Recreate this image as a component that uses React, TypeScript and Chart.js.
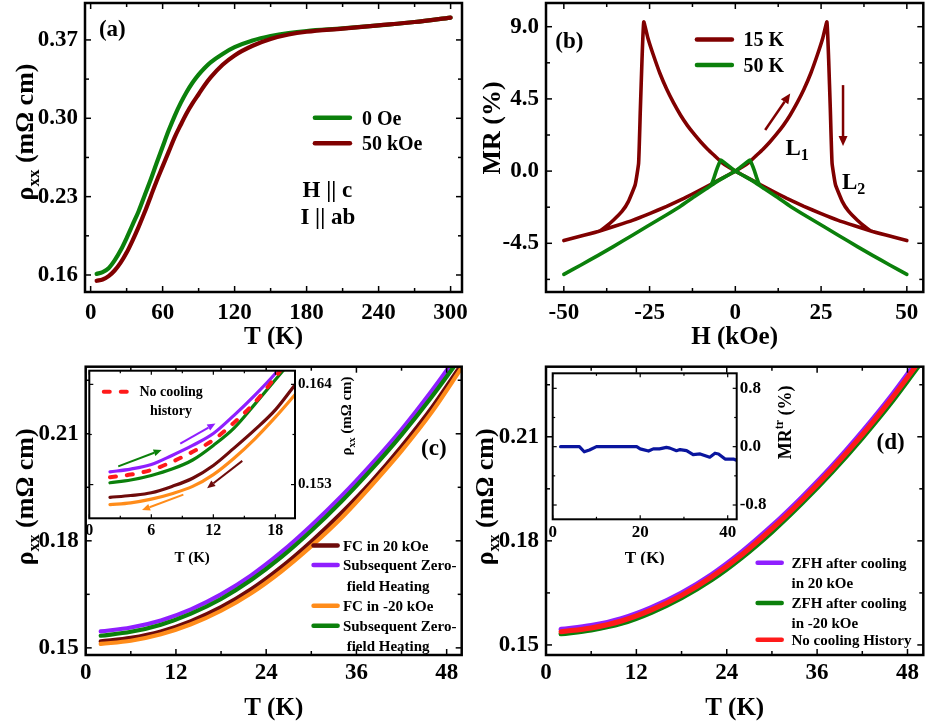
import React, { useEffect, useRef } from "react";
import { Chart, registerables } from "chart.js";
Chart.register(...registerables);

const SERIF = '"Liberation Serif", "Times New Roman", serif';
const fnt = (s: number) => `bold ${s}px ${SERIF}`;

const MAROON = "#800000";
const GREEN = "#0b800b";
const BROWN = "#6e0b0b";
const PURPLE = "#8f1fff";
const ORANGE = "#ff8c1a";
const RED = "#ff1a1a";
const NAVY = "#0a159e";

// ---------- (a) rho vs T ----------
const A_T = [5, 10, 15, 20, 25, 30, 35, 40, 45, 50, 55, 60, 65, 70, 75, 80, 85, 90, 95, 100, 110, 120, 135, 150, 165, 180, 210, 240, 270, 300];
const A_RHO_0OE = [0.161, 0.1625, 0.166, 0.173, 0.182, 0.193, 0.205, 0.217, 0.231, 0.245, 0.26, 0.2746, 0.289, 0.302, 0.3135, 0.3235, 0.332, 0.339, 0.345, 0.35, 0.3575, 0.3635, 0.3695, 0.3735, 0.3762, 0.378, 0.3803, 0.383, 0.386, 0.39];
const A_RHO_50KOE = [0.1548, 0.156, 0.159, 0.164, 0.171, 0.18, 0.191, 0.203, 0.216, 0.23, 0.244, 0.257, 0.27, 0.283, 0.294, 0.3045, 0.3135, 0.3215, 0.3295, 0.3365, 0.3478, 0.3562, 0.3648, 0.3708, 0.3748, 0.3773, 0.3801, 0.383, 0.386, 0.39];
const A_X_TICKS = [0, 60, 120, 180, 240, 300];
const A_Y_TICKS = [0.16, 0.23, 0.3, 0.37];

// ---------- (b) MR vs H (butterfly loops) ----------
const B15_H = [-50, -45, -40, -35, -30, -25, -20, -15, -10, -5, 0, 2, 4, 6, 8, 10, 12, 14, 16, 18, 20, 22, 24, 25.5, 26.7, 27.2, 27.7, 28.2, 29.2, 31.2, 33, 35.5, 37.5, 39.6, 45, 50,
  45, 40, 35, 30, 25, 20, 15, 10, 5, 0, -2, -4, -6, -8, -10, -12, -14, -16, -18, -20, -22, -24, -25.5, -26.7, -27.2, -27.7, -28.2, -29.2, -31.2, -33, -35.5, -37.5, -39.6, -45, -50];
const B15_MR = [-4.33, -4.05, -3.76, -3.42, -3.07, -2.65, -2.2, -1.7, -1.15, -0.58, 0, 0.25, 0.55, 0.95, 1.35, 1.8, 2.3, 2.85, 3.5, 4.25, 5.1, 6.1, 7.3, 8.3, 9.3, 7.0, 3.8, 0.5, -0.85, -1.9, -2.5, -3.05, -3.42, -3.74, -4.05, -4.33,
  -4.05, -3.76, -3.42, -3.07, -2.65, -2.2, -1.7, -1.15, -0.58, 0, 0.25, 0.55, 0.95, 1.35, 1.8, 2.3, 2.85, 3.5, 4.25, 5.1, 6.1, 7.3, 8.3, 9.3, 7.0, 3.8, 0.5, -0.85, -1.9, -2.5, -3.05, -3.42, -3.74, -4.05, -4.33];
const B50_H = [-50, -45, -40, -35.7, -30, -25.9, -20, -16.2, -12, -8.5, -5.5, -2.5, 0, 1.5, 3, 4.2, 4.9, 5.6, 6.2, 7, 8.5, 12, 16.2, 20, 25.9, 30, 35.7, 40, 45, 50,
  45, 40, 35.7, 30, 25.9, 20, 16.2, 12, 8.5, 5.5, 2.5, 0, -1.5, -3, -4.2, -4.9, -5.6, -6.2, -7, -8.5, -12, -16.2, -20, -25.9, -30, -35.7, -40, -45, -50];
const B50_MR = [-6.44, -5.85, -5.25, -4.72, -4.0, -3.47, -2.72, -2.22, -1.6, -1.1, -0.67, -0.3, 0, 0.25, 0.5, 0.69, 0.4, 0.0, -0.4, -0.85, -1.1, -1.6, -2.22, -2.72, -3.47, -4.0, -4.72, -5.25, -5.85, -6.44,
  -5.85, -5.25, -4.72, -4.0, -3.47, -2.72, -2.22, -1.6, -1.1, -0.67, -0.3, 0, 0.25, 0.5, 0.69, 0.4, 0.0, -0.4, -0.85, -1.1, -1.6, -2.22, -2.72, -3.47, -4.0, -4.72, -5.25, -5.85, -6.44];
const B_X_TICKS = [-50, -25, 0, 25, 50];
const B_Y_TICKS = [-4.5, 0, 4.5, 9];

// ---------- (c) cooling history ----------
const C_T = [2, 6, 10, 14, 18, 22, 26, 30, 34, 38, 42, 46, 50];
const C_FC20 = [0.1518, 0.1528, 0.1546, 0.1575, 0.1614, 0.1664, 0.1726, 0.1798, 0.1878, 0.1966, 0.2064, 0.2172, 0.2295];
const C_ZFH_AFTER20 = [0.1546, 0.1557, 0.1577, 0.1608, 0.165, 0.1703, 0.1768, 0.1843, 0.1925, 0.2015, 0.2112, 0.222, 0.2336];
const C_FCM20 = [0.1511, 0.152, 0.1538, 0.1566, 0.1604, 0.1653, 0.1714, 0.1785, 0.1864, 0.1955, 0.2052, 0.216, 0.2285];
const C_ZFH_AFTERM20 = [0.1534, 0.1545, 0.1565, 0.1596, 0.1637, 0.169, 0.1754, 0.1828, 0.191, 0.2, 0.2097, 0.2203, 0.2318];
const C_X_TICKS = [0, 12, 24, 36, 48];
const C_Y_TICKS = [0.15, 0.18, 0.21];

const CI_T = [2, 4, 6, 8, 10, 12, 14, 16, 18, 20];
const CI_ZFH20 = [0.1544, 0.1547, 0.1552, 0.1562, 0.1573, 0.1586, 0.1606, 0.1628, 0.1652, 0.168];
const CI_NOHIST = [0.1538, 0.1541, 0.1546, 0.1555, 0.1566, 0.1579, 0.1598, 0.162, 0.1648, 0.1678];
const CI_ZFHM20 = [0.1532, 0.1535, 0.154, 0.1547, 0.1557, 0.1573, 0.1592, 0.1618, 0.1645, 0.1672];
const CI_FC20 = [0.1516, 0.1518, 0.1521, 0.1528, 0.1537, 0.1551, 0.157, 0.159, 0.1612, 0.1641];
const CI_FCM20 = [0.1508, 0.151, 0.1514, 0.152, 0.1528, 0.1541, 0.1559, 0.158, 0.1604, 0.163];
const CI_X_TICKS = [0, 6, 12, 18];
const CI_Y_TICKS = [0.153, 0.164];

// ---------- (d) ZFH comparison ----------
const D_T = [2, 6, 10, 14, 18, 22, 26, 30, 34, 38, 42, 46, 50];
const D_ZFH20 = [0.1545, 0.1556, 0.1576, 0.1608, 0.165, 0.1703, 0.1768, 0.1843, 0.1926, 0.2016, 0.2115, 0.2222, 0.234];
const D_ZFHM20 = [0.1532, 0.1543, 0.1562, 0.1594, 0.1636, 0.1688, 0.1752, 0.1826, 0.1909, 0.1999, 0.2097, 0.2203, 0.232];
const D_NOHIST = [0.1538, 0.1549, 0.1569, 0.1601, 0.1643, 0.1696, 0.176, 0.1835, 0.1918, 0.2008, 0.2106, 0.2213, 0.233];
const D_X_TICKS = [0, 12, 24, 36, 48];
const D_Y_TICKS = [0.15, 0.18, 0.21];

const DI_T = [1.8, 6.1, 7.2, 8.4, 10, 19.2, 20, 21.9, 23, 24.4, 26, 26.8, 28.3, 29.1, 30.6, 32.1, 33.7, 35.9, 37.1, 37.9, 39.4, 41.3, 42.5];
const DI_MR = [0, 0, -0.07, -0.045, 0, 0, -0.03, -0.06, -0.03, -0.03, -0.01, -0.02, -0.055, -0.04, -0.055, -0.11, -0.1, -0.145, -0.09, -0.1, -0.17, -0.17, -0.2];
const DI_X_TICKS = [0, 20, 40];
const DI_Y_TICKS = [-0.8, 0, 0.8];

// ---------- helpers ----------
type Seg = { t: string; s: number; dy?: number };
type TextItem = { x: number; y: number; segs: Seg[]; align?: "left" | "center" };
type LegItem = { x1: number; x2: number; y: number; color: string; width: number; dash?: number[] };
type Arrow = { x1: number; y1: number; x2: number; y2: number; color: string; width: number; head: number; hw: number };
type Deco = {
  bg?: boolean; frame: number; tickW: number; major: number; minor: number;
  xMajor: number[]; xMinor: number[]; yMajor: number[]; yMinor: number[];
  texts?: TextItem[]; legend?: LegItem[]; arrows?: Arrow[];
  yTitle?: { segs: Seg[]; side: "left" | "right"; dx: number; dy: number };
  xTitle?: { segs: Seg[]; dy: number };
};

function segsWidth(ctx: CanvasRenderingContext2D, segs: Seg[]) {
  let w = 0;
  for (const sg of segs) { ctx.font = fnt(sg.s); w += ctx.measureText(sg.t).width; }
  return w;
}
function drawSegs(ctx: CanvasRenderingContext2D, segs: Seg[], x: number, y: number, align: "left" | "center") {
  const main = Math.max(...segs.map((s) => s.s));
  const w = segsWidth(ctx, segs);
  let cx = align === "center" ? x - w / 2 : x;
  const base = y + 0.34 * main;
  ctx.textAlign = "left";
  ctx.textBaseline = "alphabetic";
  for (const sg of segs) {
    ctx.font = fnt(sg.s);
    ctx.fillText(sg.t, cx, base + (sg.dy || 0));
    cx += ctx.measureText(sg.t).width;
  }
}

function makeDeco(o: Deco) {
  return {
    id: "deco",
    beforeDatasetsDraw(chart: any) {
      if (!o.bg) return;
      const a = chart.chartArea, ctx = chart.ctx;
      ctx.save();
      ctx.fillStyle = "#fff";
      ctx.fillRect(a.left, a.top, a.right - a.left, a.bottom - a.top);
      ctx.restore();
    },
    afterDraw(chart: any) {
      const ctx: CanvasRenderingContext2D = chart.ctx;
      const a = chart.chartArea;
      const xs = chart.scales.x, ys = chart.scales.y;
      ctx.save();
      ctx.fillStyle = "#000";
      ctx.strokeStyle = "#000";
      const line = (x1: number, y1: number, x2: number, y2: number) => {
        ctx.beginPath(); ctx.moveTo(x1, y1); ctx.lineTo(x2, y2); ctx.stroke();
      };
      ctx.lineWidth = o.tickW;
      const tk = (vals: number[], len: number, isX: boolean) => {
        for (const v of vals) {
          if (isX) {
            const p = xs.getPixelForValue(v);
            if (p < a.left - 0.5 || p > a.right + 0.5) continue;
            line(p, a.bottom, p, a.bottom - len);
            line(p, a.top, p, a.top + len);
          } else {
            const p = ys.getPixelForValue(v);
            if (p < a.top - 0.5 || p > a.bottom + 0.5) continue;
            line(a.left, p, a.left + len, p);
            line(a.right, p, a.right - len, p);
          }
        }
      };
      tk(o.xMajor, o.major, true); tk(o.xMinor, o.minor, true);
      tk(o.yMajor, o.major, false); tk(o.yMinor, o.minor, false);
      ctx.lineWidth = o.frame;
      ctx.strokeRect(a.left, a.top, a.right - a.left, a.bottom - a.top);
      for (const l of o.legend || []) {
        ctx.save();
        ctx.strokeStyle = l.color; ctx.lineWidth = l.width; ctx.lineCap = "round";
        if (l.dash) ctx.setLineDash(l.dash);
        const y = ys.getPixelForValue(l.y);
        line(xs.getPixelForValue(l.x1), y, xs.getPixelForValue(l.x2), y);
        ctx.restore();
      }
      for (const ar of o.arrows || []) {
        const X1 = xs.getPixelForValue(ar.x1), Y1 = ys.getPixelForValue(ar.y1);
        const X2 = xs.getPixelForValue(ar.x2), Y2 = ys.getPixelForValue(ar.y2);
        const ang = Math.atan2(Y2 - Y1, X2 - X1);
        const bx = X2 - Math.cos(ang) * ar.head, by = Y2 - Math.sin(ang) * ar.head;
        ctx.save();
        ctx.strokeStyle = ar.color; ctx.fillStyle = ar.color; ctx.lineWidth = ar.width;
        line(X1, Y1, bx, by);
        ctx.beginPath();
        ctx.moveTo(X2, Y2);
        ctx.lineTo(bx + Math.sin(ang) * ar.hw, by - Math.cos(ang) * ar.hw);
        ctx.lineTo(bx - Math.sin(ang) * ar.hw, by + Math.cos(ang) * ar.hw);
        ctx.closePath(); ctx.fill();
        ctx.restore();
      }
      ctx.fillStyle = "#000";
      for (const t of o.texts || []) {
        drawSegs(ctx, t.segs, xs.getPixelForValue(t.x), ys.getPixelForValue(t.y), t.align || "left");
      }
      if (o.xTitle) {
        drawSegs(ctx, o.xTitle.segs, (a.left + a.right) / 2, a.bottom + o.xTitle.dy, "center");
      }
      if (o.yTitle) {
        const cx = (o.yTitle.side === "left" ? a.left : a.right) + o.yTitle.dx;
        const cy = (a.top + a.bottom) / 2 + o.yTitle.dy;
        ctx.save();
        ctx.translate(cx, cy);
        ctx.rotate(-Math.PI / 2);
        drawSegs(ctx, o.yTitle.segs, 0, 0, "center");
        ctx.restore();
      }
      ctx.restore();
    },
  };
}

function axis(id: "x" | "y", position: string, min: number, max: number, ticks: number[], dec: number, fsize: number, pad: number, size: number) {
  return {
    type: "linear",
    position,
    min,
    max,
    grid: { display: false, drawTicks: false },
    border: { display: false },
    afterBuildTicks: (s: any) => { s.ticks = ticks.map((v) => ({ value: v })); },
    afterFit: (s: any) => {
      if (id === "x") s.height = size; else s.width = size;
      s.paddingLeft = 0; s.paddingRight = 0; s.paddingTop = 0; s.paddingBottom = 0;
    },
    ticks: {
      font: { family: SERIF, weight: "bold", size: fsize },
      color: "#000",
      padding: pad,
      autoSkip: false,
      maxRotation: 0,
      minRotation: 0,
      callback: (v: any) => Number(v).toFixed(dec),
    },
  };
}

function series(xs: number[], ys: number[], color: string, width: number, extra: any = {}) {
  return {
    data: xs.map((x, i) => ({ x, y: ys[i] })),
    borderColor: color,
    backgroundColor: color,
    borderWidth: width,
    pointRadius: 0,
    showLine: true,
    fill: false,
    clip: 0,
    borderJoinStyle: "round",
    borderCapStyle: "round",
    cubicInterpolationMode: "monotone",
    ...extra,
  };
}

function baseOptions(padding: any, scales: any) {
  return {
    animation: false,
    responsive: false,
    devicePixelRatio: 1,
    events: [],
    layout: { padding },
    plugins: { legend: { display: false }, tooltip: { enabled: false }, title: { display: false } },
    scales,
  };
}

const RHO_TITLE = (s: number, ss: number, d: number): Seg[] => [{ t: "ρ", s }, { t: "xx", s: ss, dy: d }, { t: " (mΩ cm)", s }];

function cfgA() {
  return {
    type: "scatter",
    data: {
      datasets: [
        series(A_T, A_RHO_50KOE, MAROON, 4.2),
        series(A_T, A_RHO_0OE, GREEN, 4.2),
      ],
    },
    options: baseOptions({ left: 0, top: 3, right: 8, bottom: 0 }, {
      x: axis("x", "bottom", -4.7, 309.5, A_X_TICKS, 0, 23, 7, 68),
      y: axis("y", "left", 0.1448, 0.403, A_Y_TICKS, 2, 23, 7, 85),
    }),
    plugins: [makeDeco({
      frame: 2.5, tickW: 1.5, major: 6, minor: 4,
      xMajor: A_X_TICKS, xMinor: [30, 90, 150, 210, 270], yMajor: A_Y_TICKS, yMinor: [0.195, 0.265, 0.335],
      texts: [
        { x: 6.9, y: 0.3803, segs: [{ t: "(a)", s: 23 }] },
        { x: 226.1, y: 0.3005, segs: [{ t: "0 Oe", s: 20 }] },
        { x: 226.1, y: 0.2776, segs: [{ t: "50 kOe", s: 20 }] },
        { x: 197.3, y: 0.2367, segs: [{ t: "H || c", s: 23 }], align: "center" },
        { x: 197.7, y: 0.2126, segs: [{ t: "I || ab", s: 23 }], align: "center" },
      ],
      legend: [
        { x1: 186.9, x2: 216.1, y: 0.3005, color: GREEN, width: 4.5 },
        { x1: 186.9, x2: 216.1, y: 0.2776, color: MAROON, width: 4.5 },
      ],
      yTitle: { segs: RHO_TITLE(26, 17, 6), side: "left", dx: -61, dy: -15.5 },
      xTitle: { segs: [{ t: "T (K)", s: 25 }], dy: 43 },
    })],
  };
}

function cfgB() {
  return {
    type: "scatter",
    data: {
      datasets: [
        series(B50_H, B50_MR, GREEN, 3.6, { cubicInterpolationMode: "default", tension: 0.12 }),
        series(B15_H, B15_MR, MAROON, 3.6, { cubicInterpolationMode: "default", tension: 0.12 }),
      ],
    },
    options: baseOptions({ left: 0, top: 3, right: 2.7, bottom: 0 }, {
      x: axis("x", "bottom", -55.2, 54.8, B_X_TICKS, 0, 23, 7, 68),
      y: axis("y", "left", -7.536, 10.478, B_Y_TICKS, 1, 23, 7, 76),
    }),
    plugins: [makeDeco({
      frame: 2.5, tickW: 1.5, major: 6, minor: 4,
      xMajor: B_X_TICKS, xMinor: [-37.5, -12.5, 12.5, 37.5], yMajor: B_Y_TICKS, yMinor: [-6.75, -2.25, 2.25, 6.75],
      texts: [
        { x: -52.5, y: 8.17, segs: [{ t: "(b)", s: 23 }] },
        { x: 2.4, y: 8.21, segs: [{ t: "15 K", s: 20 }] },
        { x: 2.4, y: 6.61, segs: [{ t: "50 K", s: 20 }] },
        { x: 14.6, y: 1.47, segs: [{ t: "L", s: 23 }, { t: "1", s: 16, dy: 5 }] },
        { x: 31.1, y: -0.64, segs: [{ t: "L", s: 23 }, { t: "2", s: 16, dy: 5 }] },
      ],
      legend: [
        { x1: -11.2, x2: -1.0, y: 8.21, color: MAROON, width: 4.5 },
        { x1: -11.2, x2: -1.0, y: 6.61, color: GREEN, width: 4.5 },
      ],
      arrows: [
        { x1: 8.7, y1: 2.56, x2: 16, y2: 4.84, color: MAROON, width: 2.5, head: 10, hw: 4.5 },
        { x1: 31.4, y1: 5.36, x2: 31.4, y2: 1.56, color: MAROON, width: 2.5, head: 10, hw: 4.5 },
      ],
      yTitle: { segs: [{ t: "MR (%)", s: 26 }], side: "left", dx: -55, dy: -19.5 },
      xTitle: { segs: [{ t: "H (kOe)", s: 25 }], dy: 43 },
    })],
  };
}

function cfgC() {
  return {
    type: "scatter",
    data: {
      datasets: [
        series(C_T, C_ZFH_AFTERM20, GREEN, 4.2),
        series(C_T, C_FCM20, ORANGE, 4.2),
        series(C_T, C_ZFH_AFTER20, PURPLE, 4.2),
        series(C_T, C_FC20, BROWN, 4.2),
      ],
    },
    options: baseOptions({ left: 0, top: 6.7, right: 8.3, bottom: 0 }, {
      x: axis("x", "bottom", 0, 50, C_X_TICKS, 0, 23, 4, 67),
      y: axis("y", "left", 0.148, 0.2288, C_Y_TICKS, 2, 23, 7, 85.7),
    }),
    plugins: [makeDeco({
      frame: 2.5, tickW: 1.5, major: 6, minor: 4,
      xMajor: C_X_TICKS, xMinor: [6, 18, 30, 42], yMajor: C_Y_TICKS, yMinor: [0.165, 0.195, 0.225],
      texts: [
        { x: 44.6, y: 0.2063, segs: [{ t: "(c)", s: 23 }] },
        { x: 34.2, y: 0.1787, segs: [{ t: "FC in 20 kOe", s: 15 }] },
        { x: 34.2, y: 0.1732, segs: [{ t: "Subsequent Zero-", s: 15 }] },
        { x: 34.7, y: 0.1675, segs: [{ t: "field Heating", s: 15 }] },
        { x: 34.2, y: 0.1618, segs: [{ t: "FC in -20 kOe", s: 15 }] },
        { x: 34.2, y: 0.1562, segs: [{ t: "Subsequent Zero-", s: 15 }] },
        { x: 34.7, y: 0.1506, segs: [{ t: "field Heating", s: 15 }] },
      ],
      legend: [
        { x1: 30.3, x2: 33.5, y: 0.1787, color: BROWN, width: 4.5 },
        { x1: 30.3, x2: 33.5, y: 0.1732, color: PURPLE, width: 4.5 },
        { x1: 30.3, x2: 33.5, y: 0.1618, color: ORANGE, width: 4.5 },
        { x1: 30.3, x2: 33.5, y: 0.1562, color: GREEN, width: 4.5 },
      ],
      yTitle: { segs: RHO_TITLE(26, 17, 6), side: "left", dx: -61.7, dy: -14 },
      xTitle: { segs: [{ t: "T (K)", s: 25 }], dy: 51.7 },
    })],
  };
}

function cfgCI() {
  return {
    type: "scatter",
    data: {
      datasets: [
        series(CI_T, CI_NOHIST, RED, 4, { borderDash: [6, 11] }),
        series(CI_T, CI_ZFH20, PURPLE, 3.2),
        series(CI_T, CI_ZFHM20, GREEN, 3.2),
        series(CI_T, CI_FC20, BROWN, 3.2),
        series(CI_T, CI_FCM20, ORANGE, 3.2),
      ],
    },
    options: baseOptions({ left: 9.3, top: 5.7, right: 0, bottom: 0 }, {
      x: axis("x", "bottom", 0, 19.9, CI_X_TICKS, 0, 16, 3, 46.7),
      y: axis("y", "right", 0.1493, 0.1655, CI_Y_TICKS, 3, 15, 3, 67),
    }),
    plugins: [makeDeco({
      bg: true, frame: 2, tickW: 1.2, major: 4, minor: 2.5,
      xMajor: CI_X_TICKS, xMinor: [3, 9, 15], yMajor: CI_Y_TICKS, yMinor: [0.1585],
      texts: [
        { x: 4.85, y: 0.1632, segs: [{ t: "No cooling", s: 14 }] },
        { x: 7.9, y: 0.1612, segs: [{ t: "history", s: 14 }], align: "center" },
      ],
      legend: [{ x1: 1.4, x2: 4.4, y: 0.1632, color: RED, width: 4, dash: [6, 11] }],
      arrows: [
        { x1: 2.8, y1: 0.155, x2: 7.0, y2: 0.1568, color: GREEN, width: 2, head: 8, hw: 3.5 },
        { x1: 8.8, y1: 0.1575, x2: 12.2, y2: 0.1597, color: PURPLE, width: 2, head: 8, hw: 3.5 },
        { x1: 14.8, y1: 0.1556, x2: 11.4, y2: 0.1526, color: BROWN, width: 2, head: 8, hw: 3.5 },
        { x1: 9.1, y1: 0.1519, x2: 5.1, y2: 0.1502, color: ORANGE, width: 2, head: 8, hw: 3.5 },
      ],
      yTitle: { segs: RHO_TITLE(15, 10, 4), side: "right", dx: 51, dy: -28.5 },
      xTitle: { segs: [{ t: "T (K)", s: 15 }], dy: 38.4 },
    })],
  };
}

function cfgD() {
  return {
    type: "scatter",
    data: {
      datasets: [
        series(D_T, D_NOHIST, RED, 5),
        series(D_T, D_ZFHM20, GREEN, 5),
        series(D_T, D_ZFH20, PURPLE, 5),
      ],
    },
    options: baseOptions({ left: 0, top: 6.7, right: 2.7, bottom: 0 }, {
      x: axis("x", "bottom", 0, 50.1, D_X_TICKS, 0, 23, 4, 67),
      y: axis("y", "left", 0.1471, 0.2302, D_Y_TICKS, 2, 23, 7, 76),
    }),
    plugins: [makeDeco({
      frame: 2.5, tickW: 1.5, major: 6, minor: 4,
      xMajor: D_X_TICKS, xMinor: [6, 18, 30, 42], yMajor: D_Y_TICKS, yMinor: [0.165, 0.195, 0.225],
      texts: [
        { x: 43.9, y: 0.2088, segs: [{ t: "(d)", s: 23 }] },
        { x: 32.6, y: 0.1737, segs: [{ t: "ZFH after cooling", s: 15 }] },
        { x: 32.6, y: 0.1679, segs: [{ t: "in 20 kOe", s: 15 }] },
        { x: 32.6, y: 0.1621, segs: [{ t: "ZFH after cooling", s: 15 }] },
        { x: 32.6, y: 0.1564, segs: [{ t: "in -20 kOe", s: 15 }] },
        { x: 32.6, y: 0.1515, segs: [{ t: "No cooling History", s: 15 }] },
      ],
      legend: [
        { x1: 28.1, x2: 31.3, y: 0.1737, color: PURPLE, width: 4.5 },
        { x1: 28.1, x2: 31.3, y: 0.1621, color: GREEN, width: 4.5 },
        { x1: 28.1, x2: 31.3, y: 0.1515, color: RED, width: 4.5 },
      ],
      yTitle: { segs: RHO_TITLE(26, 17, 6), side: "left", dx: -62, dy: -14 },
      xTitle: { segs: [{ t: "T (K)", s: 25 }], dy: 51.7 },
    })],
  };
}

function cfgDI() {
  return {
    type: "scatter",
    data: {
      datasets: [series(DI_T, DI_MR, NAVY, 3.2, { cubicInterpolationMode: "default", tension: 0 })],
    },
    options: baseOptions({ left: 7.7, top: 8.3, right: 0, bottom: 0 }, {
      x: axis("x", "bottom", 0, 42.06, DI_X_TICKS, 0, 17, 3, 45.7),
      y: axis("y", "right", -0.996, 1.006, DI_Y_TICKS, 1, 17, 3, 63.3),
    }),
    plugins: [makeDeco({
      bg: true, frame: 2, tickW: 1.2, major: 4, minor: 2.5,
      xMajor: DI_X_TICKS, xMinor: [10, 30], yMajor: DI_Y_TICKS, yMinor: [-0.4, 0.4],
      yTitle: { segs: [{ t: "MR", s: 18 }, { t: "tr", s: 12, dy: -8 }, { t: " (%)", s: 18 }], side: "right", dx: 48, dy: -24 },
      xTitle: { segs: [{ t: "T (K)", s: 17 }], dy: 38 },
    })],
  };
}

function ChartBox(props: { left: number; top: number; width: number; height: number; build: () => any }) {
  const ref = useRef<HTMLCanvasElement>(null);
  useEffect(() => {
    const c = new Chart(ref.current as HTMLCanvasElement, props.build());
    return () => c.destroy();
  }, []);
  return (
    <canvas
      ref={ref}
      width={props.width}
      height={props.height}
      style={{ position: "absolute", left: props.left, top: props.top, width: props.width, height: props.height }}
    />
  );
}

export default function App() {
  return (
    <div style={{ position: "absolute", left: 0, top: 0, width: 926, height: 722, background: "#fff", overflow: "hidden" }}>
      <ChartBox left={0} top={0} width={470} height={360} build={cfgA} />
      <ChartBox left={470} top={0} width={456} height={360} build={cfgB} />
      <ChartBox left={0} top={360} width={470} height={362} build={cfgC} />
      <ChartBox left={470} top={360} width={456} height={362} build={cfgD} />
      <ChartBox left={80} top={365} width={282} height={200} build={cfgCI} />
      <ChartBox left={545} top={365} width={255} height={200} build={cfgDI} />
    </div>
  );
}
